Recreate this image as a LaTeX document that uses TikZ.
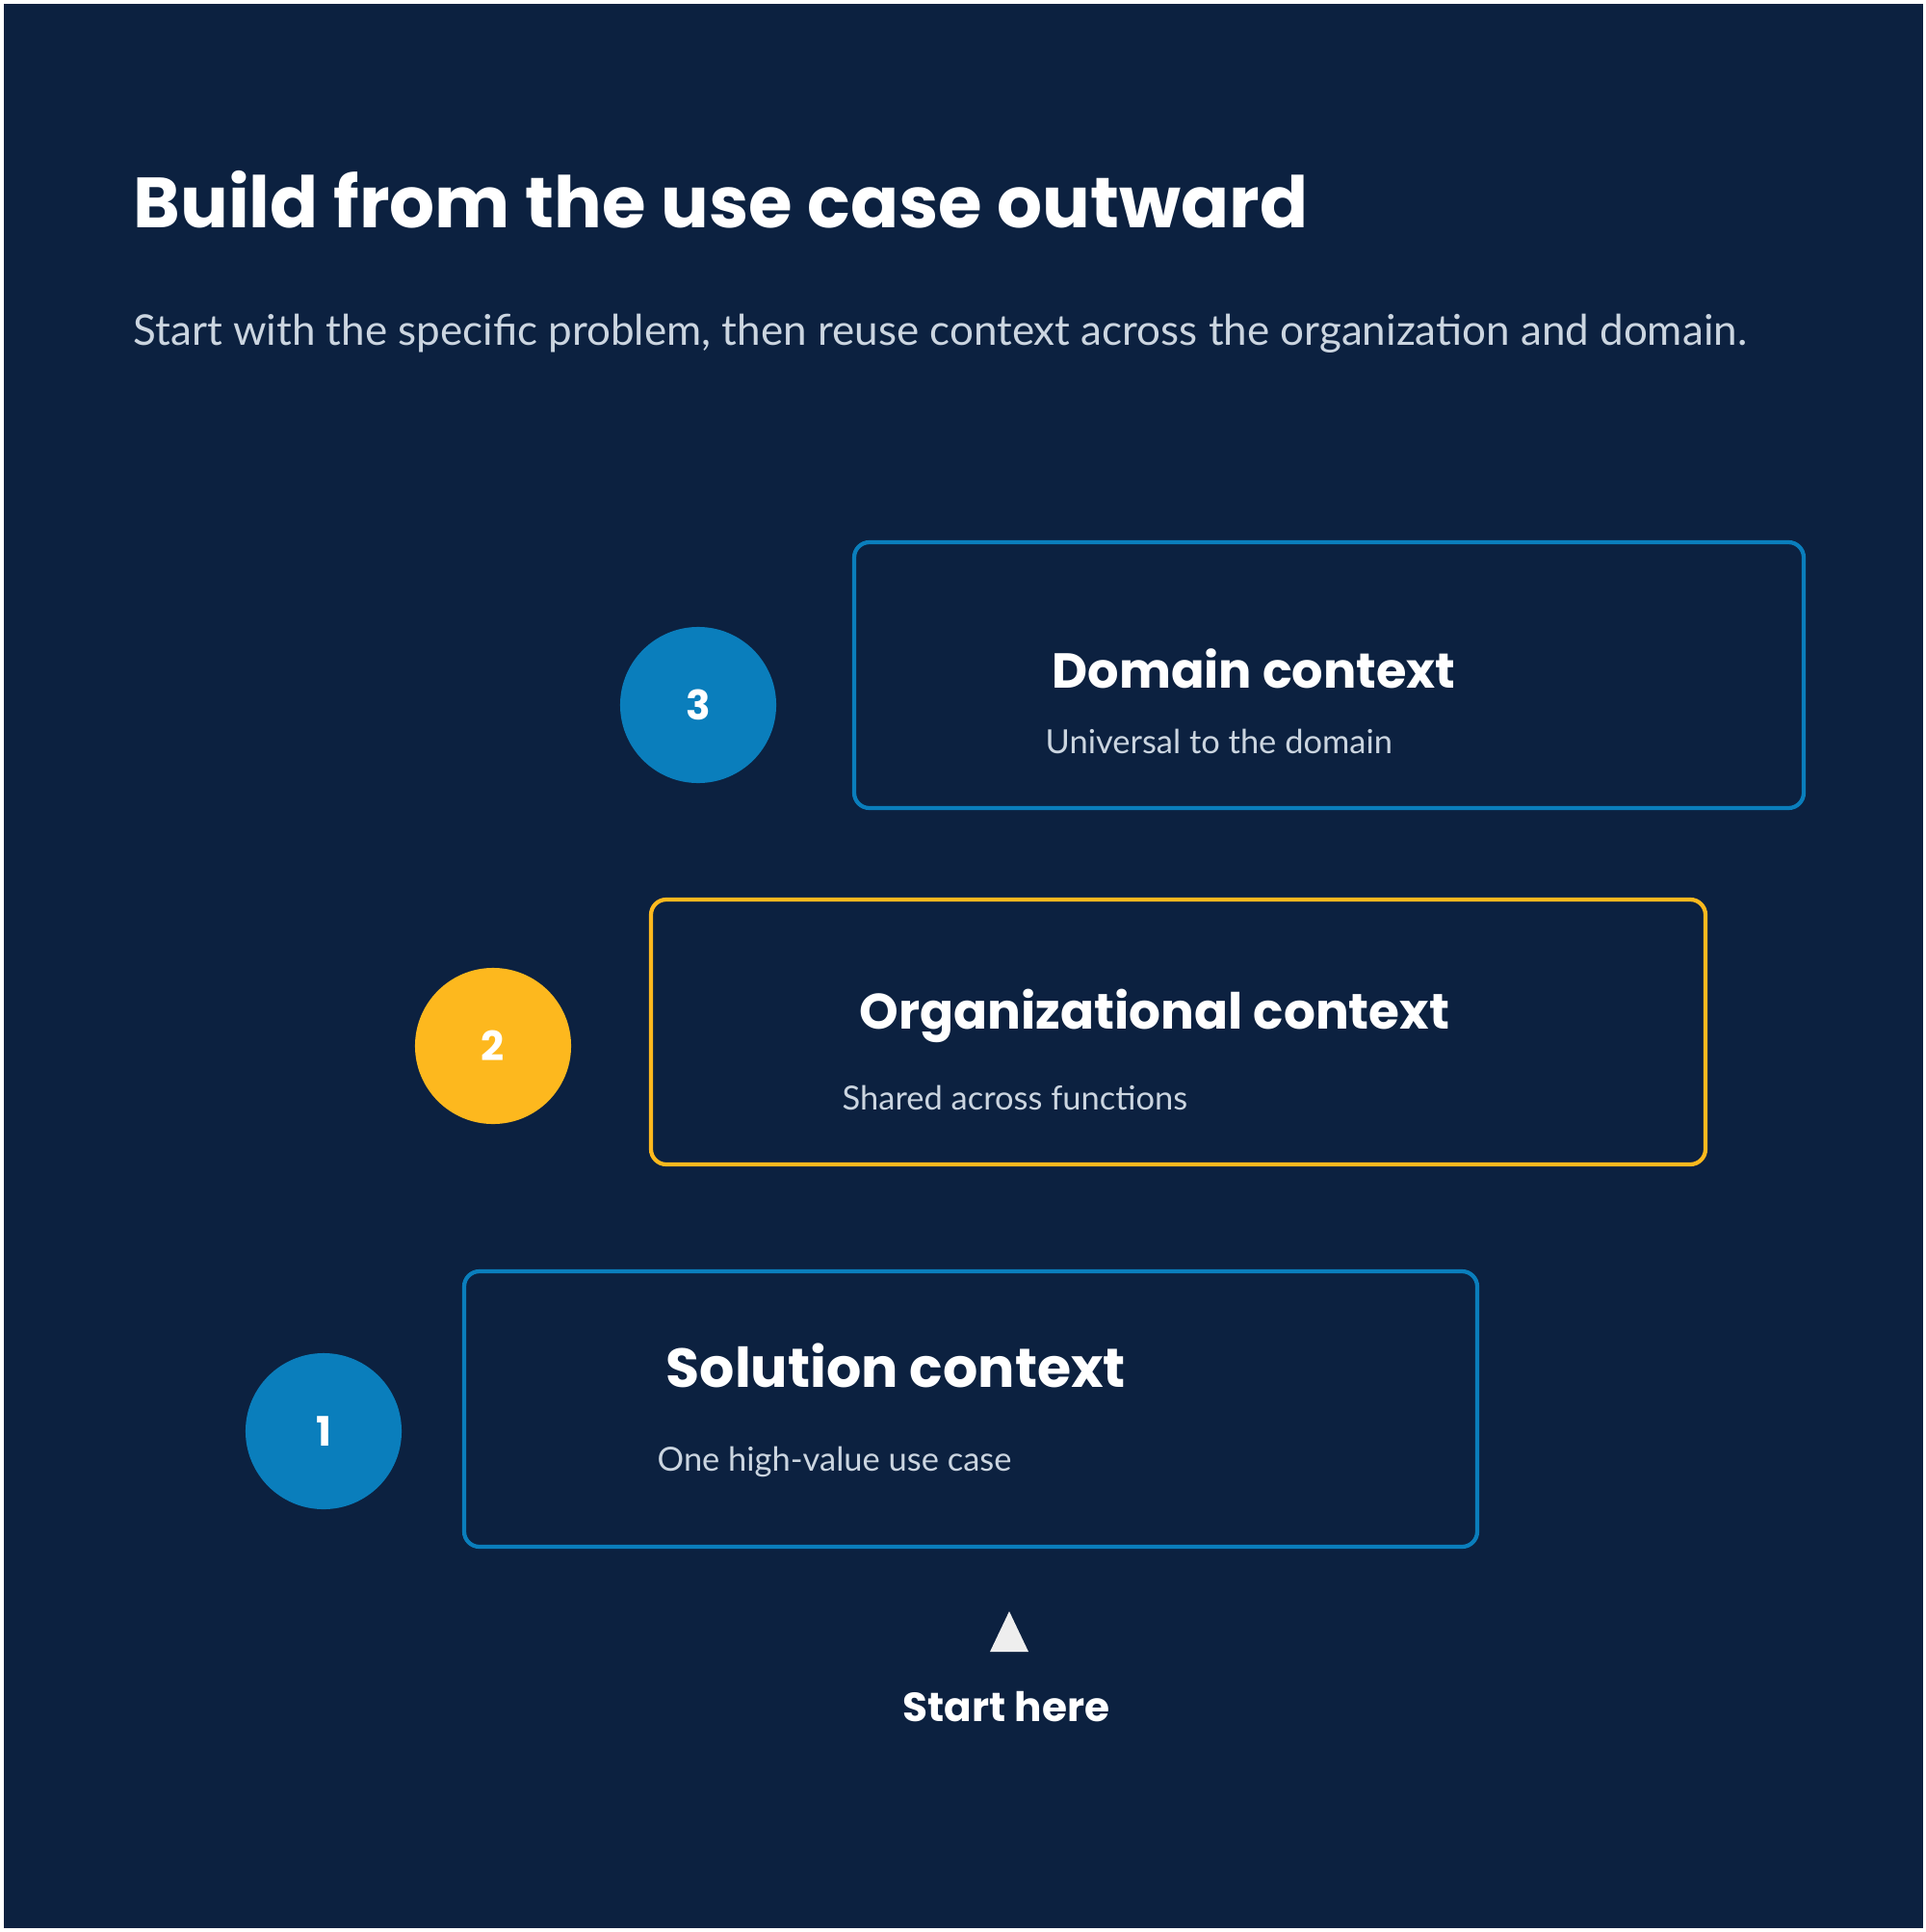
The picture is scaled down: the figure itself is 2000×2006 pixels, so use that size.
\documentclass[tikz,border=0pt]{standalone}
\usepackage{fontspec}
\setmainfont{Lato}
\newfontfamily\headfont{Poppins}
\usetikzlibrary{positioning}
\definecolor{navybg}{HTML}{0C2140}
\definecolor{ctxblue}{HTML}{0A7EBC}
\definecolor{ctxgold}{HTML}{FDB81E}
\definecolor{subgray}{HTML}{CBD5E0}
\definecolor{tipgray}{HTML}{EEEEEE}

\begin{document}
\begin{tikzpicture}[x=0.01cm,y=-0.01cm,
    ctxbox/.style={draw=#1, line width=1.2pt, rounded corners=4.5pt},
    numdot/.style={circle, fill=#1, minimum size=1.62cm, inner sep=0pt,
      text=white, font=\headfont\bfseries\fontsize{12}{14}\selectfont},
    ctxhead/.style={anchor=base west, text=white, inner sep=0pt,
      font=\headfont\bfseries\fontsize{#1}{19}\selectfont},
    ctxsub/.style={anchor=base west, text=subgray, inner sep=0pt,
      font=\fontsize{9.8}{12}\selectfont}]
      % page and background
      \fill[white] (0,0) rectangle (2000,2006);
      \fill[navybg] (4,4) rectangle (1997,2002);
      \node [anchor=base west, text=white, inner sep=0pt,
        font=\headfont\bfseries\fontsize{21}{25}\selectfont] (title) at (138,236)
        {Build from the use case outward};
      \node [anchor=base west, text=subgray, inner sep=0pt,
        font=\fontsize{12.5}{15}\selectfont] (subtitle) at (138,358)
        {Start with the specific problem, then reuse context across the organization and domain.};
      % the three context boxes
      \draw[ctxbox=ctxblue] (887,563) rectangle (1873,839);
      \draw[ctxbox=ctxgold] (676,934) rectangle (1771,1209);
      \draw[ctxbox=ctxblue] (482,1320) rectangle (1534,1606);
      \node [ctxhead=14.5] (domhead) at (1092,714) {Domain context};
      \node [ctxsub] (domsub) at (1085,782) {Universal to the domain};
      \node [ctxhead=14.7] (orghead) at (892,1068) {Organizational context};
      \node [ctxsub] (orgsub) at (874,1152) {Shared across functions};
      \node [ctxhead=16.2] (solhead) at (691,1440) {Solution context};
      \node [ctxsub] (solsub) at (682,1527) {One high-value use case};
      % numbered steps
      \node [numdot=ctxblue] (step3) at (725,732) {3};
      \node [numdot=ctxgold] (step2) at (512,1086) {2};
      \node [numdot=ctxblue] (step1) at (336,1486) {1};
      % start marker
      \fill[tipgray] (1048,1673) -- (1068,1715) -- (1028,1715) -- cycle;
      \node [anchor=base, text=white, inner sep=0pt,
        font=\headfont\bfseries\fontsize{12}{14}\selectfont] (start) at (1045,1787) {Start here};
    \end{tikzpicture}
\end{document}
